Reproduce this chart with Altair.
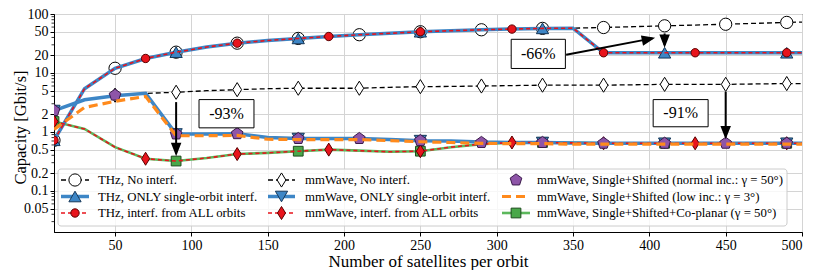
import altair as alt
import pandas as pd

FONT = "'Liberation Serif', 'Times New Roman', 'DejaVu Serif', serif"

# ---------------- data ----------------
x_sat = [10, 30, 50, 70, 90, 110, 130, 150, 170, 190, 210, 230, 250,
         270, 290, 310, 330, 350, 370, 390, 410, 430, 450, 470, 490, 500]

thz_no_interf = [0.72, 5.4, 12.0, 17.6, 22.5, 27.5, 32.0, 35.5, 38.5, 41.5, 44.5, 47.0, 50.0,
                 52.0, 54.0, 55.5, 57.0, 57.5, 59.0, 61.0, 63.0, 65.0, 67.0, 69.5, 72.0, 73.0]
thz_only_single = [0.72, 5.4, 12.0, 17.6, 22.5, 27.5, 32.0, 35.5, 38.5, 41.5, 44.5, 47.0, 50.0,
                   52.0, 54.0, 55.5, 57.0, 57.5, 22.0, 22.0, 22.0, 22.0, 22.0, 22.0, 22.0, 22.0]
thz_all_orbits = [0.72, 5.4, 12.0, 17.6, 22.5, 27.5, 32.0, 35.5, 38.5, 41.5, 44.5, 47.0, 50.0,
                  52.0, 54.0, 55.5, 57.0, 57.5, 22.0, 22.0, 22.0, 22.0, 22.0, 22.0, 22.0, 22.0]
mm_no_interf = [2.3, 3.5, 4.2, 4.5, 4.7, 5.0, 5.2, 5.4, 5.5, 5.5, 5.5, 5.7, 5.85,
                5.9, 6.0, 6.1, 6.2, 6.2, 6.2, 6.3, 6.4, 6.4, 6.4, 6.5, 6.6, 6.6]
mm_only_single = [2.3, 3.5, 4.1, 4.5, 0.92, 0.92, 0.93, 0.80, 0.77, 0.77, 0.77, 0.74, 0.71,
                  0.70, 0.67, 0.66, 0.66, 0.65, 0.64, 0.64, 0.64, 0.64, 0.64, 0.64, 0.64, 0.64]
mm_all_orbits = [1.5, 1.12, 0.55, 0.35, 0.32, 0.36, 0.42, 0.44, 0.47, 0.50, 0.48, 0.46, 0.47,
                 0.55, 0.62, 0.66, 0.66, 0.65, 0.64, 0.64, 0.64, 0.64, 0.64, 0.64, 0.64, 0.64]
mm_shift_normal = [2.3, 3.5, 4.2, 4.5, 0.92, 0.92, 0.93, 0.80, 0.77, 0.77, 0.77, 0.74, 0.71,
                   0.70, 0.66, 0.66, 0.66, 0.65, 0.64, 0.64, 0.64, 0.64, 0.64, 0.64, 0.64, 0.64]
mm_shift_low = [1.1, 2.6, 3.3, 4.0, 0.86, 0.86, 0.87, 0.75, 0.74, 0.74, 0.74, 0.71, 0.68,
                0.66, 0.64, 0.63, 0.63, 0.62, 0.62, 0.62, 0.62, 0.62, 0.62, 0.62, 0.62, 0.62]
mm_coplanar = [1.5, 1.12, 0.55, 0.35, 0.32, 0.36, 0.42, 0.44, 0.47, 0.50, 0.48, 0.46, 0.47,
               0.55, 0.62, 0.66, 0.66, 0.65, 0.64, 0.64, 0.64, 0.64, 0.64, 0.64, 0.64, 0.64]

marks_every40 = [10, 50, 90, 130, 170, 210, 250, 290, 330, 370, 410, 450, 490]
marks_every60 = [10, 70, 130, 190, 250, 310, 370, 430, 490]
marks_every80 = [10, 90, 170, 250, 330, 410, 490]

x_ticks = [50, 100, 150, 200, 250, 300, 350, 400, 450, 500]
y_ticks = [0.05, 0.1, 0.2, 0.5, 1, 2, 5, 10, 20, 50, 100]
y_minor = [0.03, 0.04, 0.06, 0.07, 0.08, 0.09, 0.3, 0.4, 0.6, 0.7, 0.8, 0.9,
           3, 4, 6, 7, 8, 9, 30, 40, 60, 70, 80, 90]

labels_col1 = ["THz, No interf.", "THz, ONLY single-orbit interf.", "THz, interf. from ALL orbits"]
labels_col2 = ["mmWave, No interf.", "mmWave, ONLY single-orbit interf.", "mmWave, interf. from ALL orbits"]
labels_col3 = ["mmWave, Single+Shifted (normal inc.: γ = 50°)",
               "mmWave, Single+Shifted (low inc.: γ = 3°)",
               "mmWave, Single+Shifted+Co-planar (γ = 50°)"]

# annotations (data units)
ann_text = ["-93%", "-66%", "-91%"]
ann_box_x = [(105, 141), (309.5, 345), (402.5, 438.5)]
ann_box_y = [(3.53, 1.17), (37.2, 11.9), (3.53, 1.22)]
arrows = [  # x0, y0, x1, y1 (tip)
    (90, 3.2, 90, 0.43),
    (410, 46.8, 410, 29.7),
    (450, 4.8, 450, 0.83),
    (345.5, 20.3, 402, 38.6),
]

# ---------------- styles ----------------
BLUE = "#3d86c6"
RED = "#e8141c"
ORANGE = "#ff8a1c"
GREEN = "#5cb85c"
GREEN_M = "#4aa84a"
PURPLE = "#8e55a8"
PENTAGON = "M0,-1L0.951,-0.309L0.588,0.809L-0.588,0.809L-0.951,-0.309Z"
THIN_DIAMOND = "M0,-1L0.62,0L0,1L-0.62,0Z"
ARROWHEAD = "M0,0L-0.55,-1.4L0.55,-1.4Z"

XS = alt.Scale(domain=[10, 500], nice=False, zero=False)
YS = alt.Scale(type="log", domain=[0.02, 100], nice=False)
X = alt.X("x:Q", scale=XS,
          axis=alt.Axis(values=x_ticks, title="Number of satellites per orbit", format="d",
                        labelFont=FONT, titleFont=FONT,
                        labelFontSize=14, titleFontSize=17, tickSize=4, titlePadding=1,
                        labelPadding=2))
Y = alt.Y("v:Q", scale=YS,
          axis=alt.Axis(values=y_ticks, title="Capacity [Gbit/s]", format="~g",
                        labelFont=FONT, titleFont=FONT,
                        labelFontSize=14, titleFontSize=16.5, tickSize=4,
                        titleX=-26, titleY=113, titleAngle=270, titleBaseline="bottom",
                        labelPadding=2))

series = [
    # values, color, width, dash, shape, marks, size, fill, stroke
    (mm_coplanar, GREEN, 2.6, None, "square", marks_every80, 95, GREEN_M, "#1e4d1e"),
    (thz_no_interf, "black", 1.3, [5, 3], "circle", marks_every40, 150, "white", "black"),
    (thz_only_single, BLUE, 3.5, None, "triangle-up", marks_every80, 150, BLUE, "#16385a"),
    (thz_all_orbits, RED, 1.6, [4, 3], "circle", marks_every60, 70, RED, "#5a0000"),
    (mm_no_interf, "black", 1.3, [5, 3], THIN_DIAMOND, marks_every40, 200, "white", "black"),
    (mm_only_single, BLUE, 3.5, None, "triangle-down", marks_every80, 150, BLUE, "#16385a"),
    (mm_all_orbits, RED, 1.6, [4, 3], THIN_DIAMOND, marks_every60, 170, RED, "#5a0000"),
    (mm_shift_normal, None, 0, None, PENTAGON, marks_every40, 150, PURPLE, "#3a1a4a"),
    (mm_shift_low, ORANGE, 3.2, [9, 5], None, None, 0, None, None),
]

layers = []
for vals, color, width, dash, shape, marks, size, fill, stroke in series:
    df = pd.DataFrame({"x": x_sat, "v": vals})
    if width:
        kw = dict(color=color, strokeWidth=width, clip=True)
        if dash:
            kw["strokeDash"] = dash
        layers.append(alt.Chart(df).mark_line(**kw).encode(x=X, y=Y))
    if shape:
        dfm = df[df["x"].isin(marks)]
        layers.append(alt.Chart(dfm).mark_point(shape=shape, size=size, filled=True, fill=fill,
                                                stroke=stroke, strokeWidth=1, opacity=1,
                                                clip=True).encode(x=X, y=Y))

# minor ticks on the log axis
minor_df = pd.DataFrame({"v": y_minor})
layers.append(alt.Chart(minor_df).mark_rule(color="black", strokeWidth=0.8).encode(
    x=alt.value(-2.5), x2=alt.value(0), y=Y))

# annotations
box_df = pd.DataFrame({
    "t": ann_text,
    "x": [b[0] for b in ann_box_x], "x2": [b[1] for b in ann_box_x],
    "v": [b[0] for b in ann_box_y], "v2": [b[1] for b in ann_box_y],
})
box_df["xc"] = (box_df["x"] + box_df["x2"]) / 2
box_df["vc"] = (box_df["v"] * box_df["v2"]) ** 0.5
layers.append(alt.Chart(box_df).mark_rect(fill="white", stroke="black", strokeWidth=1).encode(
    x=X, x2="x2:Q", y=Y, y2="v2:Q"))
layers.append(alt.Chart(box_df).mark_text(font=FONT, fontSize=16, color="black").encode(
    x=alt.X("xc:Q", scale=XS), y=alt.Y("vc:Q", scale=YS), text="t:N"))

arr_df = pd.DataFrame(arrows, columns=["x", "v", "x2", "v2"])
layers.append(alt.Chart(arr_df).mark_rule(color="black", strokeWidth=2).encode(
    x=X, x2="x2:Q", y=Y, y2="v2:Q"))
head_df = pd.DataFrame({"x": [a[2] for a in arrows], "v": [a[3] for a in arrows],
                        "ang": [0, 0, 0, 258.3]})
layers.append(alt.Chart(head_df).mark_point(shape=ARROWHEAD, size=190, filled=True,
                                            fill="black", stroke="black", opacity=1).encode(
    x=X, y=Y, angle=alt.Angle("ang:Q", scale=None)))

# ---------------- legend (drawn) ----------------
one = pd.DataFrame({"a": [0]})
layers.append(alt.Chart(one).mark_rect(fill="white", fillOpacity=0.8, stroke="#cccccc",
                                       strokeWidth=1, cornerRadius=3).encode(
    x=alt.value(4), x2=alt.value(733), y=alt.value(155), y2=alt.value(212)))

row_y = [166, 182.5, 199]
col_line = [(7, 35), (214, 241), (448, 476)]
col_text = [44, 251, 483]
legend_items = [
    # col, row, label, line color, width, dash, shape, size, fill, stroke
    (0, 0, labels_col1[0], "black", 1.3, [5, 3], "circle", 150, "white", "black"),
    (0, 1, labels_col1[1], BLUE, 3.5, None, "triangle-up", 150, BLUE, "#16385a"),
    (0, 2, labels_col1[2], RED, 1.6, [4, 3], "circle", 70, RED, "#5a0000"),
    (1, 0, labels_col2[0], "black", 1.3, [5, 3], THIN_DIAMOND, 200, "white", "black"),
    (1, 1, labels_col2[1], BLUE, 3.5, None, "triangle-down", 150, BLUE, "#16385a"),
    (1, 2, labels_col2[2], RED, 1.6, [4, 3], THIN_DIAMOND, 170, RED, "#5a0000"),
    (2, 0, labels_col3[0], None, 0, None, PENTAGON, 150, PURPLE, "#3a1a4a"),
    (2, 1, labels_col3[1], ORANGE, 3.2, [9, 5], None, 0, None, None),
    (2, 2, labels_col3[2], GREEN, 2.6, None, "square", 95, GREEN_M, "#1e4d1e"),
]
for col, row, label, lc, lw, dash, shape, size, fill, stroke in legend_items:
    yv = row_y[row]
    x0, x1 = col_line[col]
    if lw:
        kw = dict(color=lc, strokeWidth=lw)
        if dash:
            kw["strokeDash"] = dash
        layers.append(alt.Chart(one).mark_rule(**kw).encode(
            x=alt.value(x0), x2=alt.value(x1), y=alt.value(yv)))
    if shape:
        layers.append(alt.Chart(one).mark_point(shape=shape, size=size, filled=True, fill=fill,
                                                stroke=stroke, strokeWidth=1, opacity=1).encode(
            x=alt.value((x0 + x1) / 2), y=alt.value(yv)))
    layers.append(alt.Chart(pd.DataFrame({"t": [label]})).mark_text(
        font=FONT, fontSize=12.8, align="left", baseline="middle", color="black").encode(
        x=alt.value(col_text[col]), y=alt.value(yv), text="t:N"))

chart = alt.layer(*layers).properties(
    width=748, height=218,
    padding={"left": 46, "top": 6, "right": 4, "bottom": 38},
    autosize=alt.AutoSizeParams(type="none"),
).configure_view(stroke="black", strokeWidth=1).configure_axis(
    domainColor="black", tickColor="black", gridColor="#d4d4d4", gridWidth=1,
    labelFont=FONT, titleFont=FONT, labelColor="black", titleColor="black",
    titleFontWeight="normal",
).configure_text(font=FONT)

chart.save("out.html", embed_options={"renderer": "svg", "actions": False})
